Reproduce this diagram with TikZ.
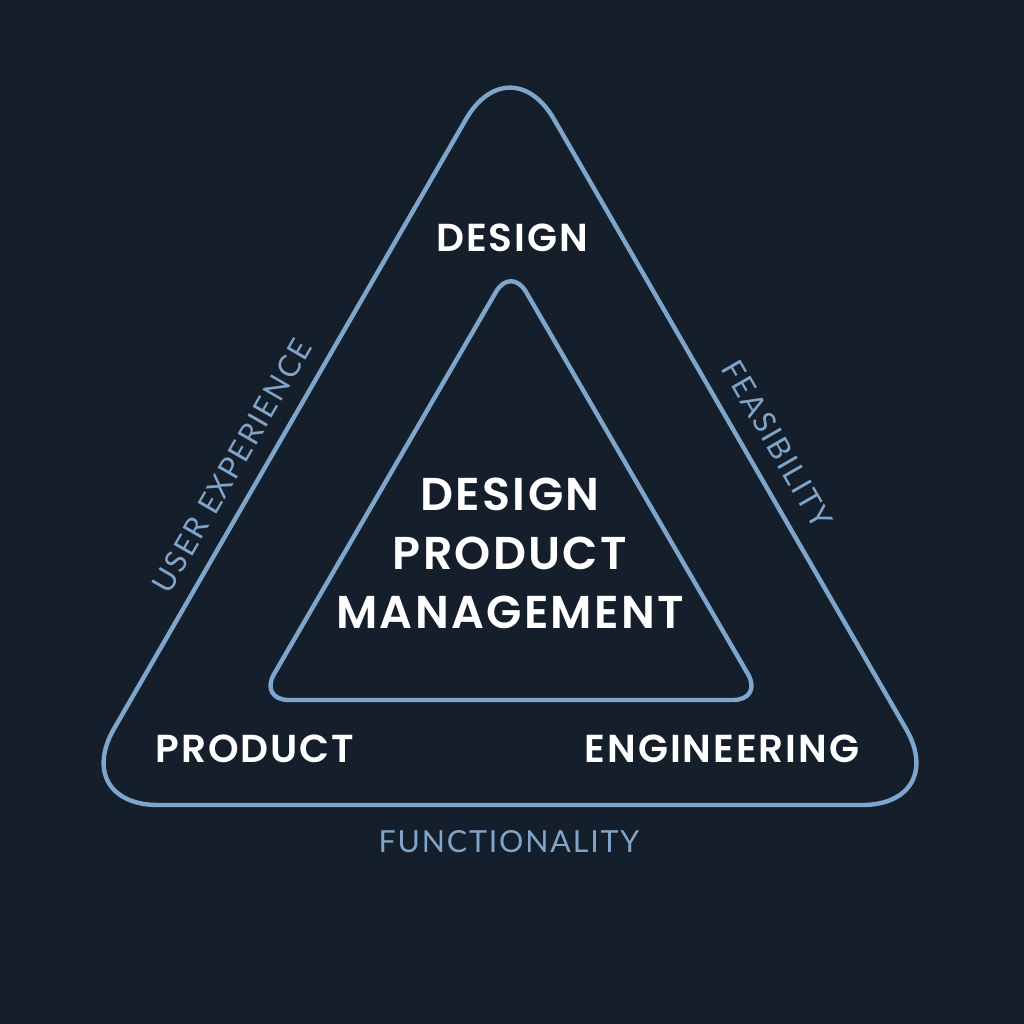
\documentclass[tikz,border=0pt]{standalone}
\usepackage{fontspec}
\setmainfont{Poppins}
\newfontfamily\labelfont[LetterSpace=6]{Lato}
\newfontfamily\headfont[LetterSpace=5, BoldFont={Poppins SemiBold}]{Poppins}
\usetikzlibrary{calc, positioning}

\definecolor{bgcol}{HTML}{151E2B}
\definecolor{edgecol}{HTML}{7EA6CC}
\definecolor{labelcol}{HTML}{7FA5CA}

\tikzset{
  corner/.style={text=white, font=\headfont\bfseries\fontsize{19.5}{22}\selectfont},
  core/.style={text=white, align=center, font=\headfont\bfseries\fontsize{23}{29.5}\selectfont},
  side/.style={text=labelcol, font=\labelfont\fontsize{15.2}{17}\selectfont},
}

\begin{document}
\begin{tikzpicture}[x=0.5pt, y=-0.5pt, line join=round, line cap=round]
\def\outerround{44pt}
\def\innerround{15pt}

% Background and frame
\fill[bgcol] (0,0) rectangle (1024,1024);
\useasboundingbox (0,0) rectangle (1024,1024);

% Outer triangle vertices
\coordinate (OL) at (70,805);
\coordinate (OR) at (950,805);
\coordinate (OT) at (510,43);

% Inner triangle vertices
\coordinate (IL) at (259,700);
\coordinate (IR) at (763,700);
\coordinate (IT) at (511,266);

% Triangles
\draw[edgecol, line width=2.2pt, rounded corners=\outerround] (OL) -- (OR) -- (OT) -- cycle;
\draw[edgecol, line width=2.2pt, rounded corners=\innerround] (IL) -- (IR) -- (IT) -- cycle;

% Corner labels
\node[corner] (design) at (512,238) {DESIGN};
\node[corner] (product) at (255,749) {PRODUCT};
\node[corner] (engineering) at (722,749) {ENGINEERING};

% Centre label
\node[core] (dpm) at (510,553) {DESIGN\\PRODUCT\\MANAGEMENT};

% Side labels
\node[side, rotate=60] (ux) at (232,466) {USER EXPERIENCE};
\node[side, rotate=-60] (feas) at (777,444) {FEASIBILITY};
\node[side] (func) at (509,842) {FUNCTIONALITY};
\end{tikzpicture}
\end{document}
